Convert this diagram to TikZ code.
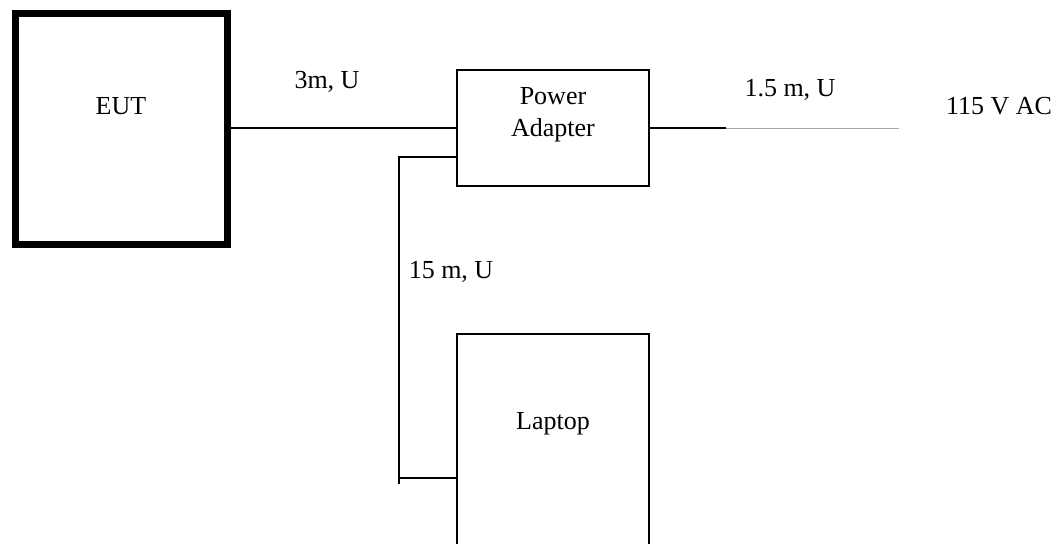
\documentclass[tikz,border=0pt]{standalone}
\usepackage{fontspec}
\setmainfont{Liberation Serif}
\begin{document}
\begin{tikzpicture}[x=0.75pt,y=-0.75pt,
  every node/.style={font=\fontsize{19.5}{23.5}\selectfont},
  box/.style={draw, line width=1.1pt, inner sep=0pt, minimum width=144pt},
  thickbox/.style={draw, line width=5.2pt, inner sep=0pt},
  wire/.style={line width=1.1pt},
  thinwire/.style={line width=0.7pt, gray!70},
  lbl/.style={inner sep=0pt, anchor=center}]
\useasboundingbox (0,0) rectangle (1063,543);
\clip (0,0) rectangle (1063,543);
% boxes
\node[thickbox, minimum width=159pt, minimum height=173.25pt] (eut) at (121.5,129) {};
\node[box, minimum height=87pt] (adapter) at (553,128) {};
\node[box, minimum height=199.5pt] (laptop) at (553,467) {};
% texts
\node[lbl] (eutt) at (121,106) {EUT};
\node[lbl, align=center] (adt) at (553,115) {Power\\[0.6pt]Adapter};
\node[lbl] (lapt) at (553,424) {Laptop};
\node[lbl] (l1) at (327,82) {3m, U};
\node[lbl] (l2) at (790,90) {1.5 m, U};
\node[lbl] (l3) at (999,106) {115 V AC};
\node[lbl] (l4) at (451,272) {15 m, U};
% connectors
\coordinate (c1) at (726,128);
\coordinate (c2) at (899,128);
\coordinate (k1) at (399,157);
\coordinate (k2) at (399,478);
\coordinate (k3) at (399,484);
\draw[wire] (adapter.west -| eut.east) -- (adapter.west);
\draw[wire] (adapter.east) -- (c1);
\draw[thinwire] (c1) -- (c2);
\draw[wire] (k1 -| adapter.west) -- (k1) -- (k3);
\draw[wire] (k2) -- (k2 -| laptop.west);
\end{tikzpicture}
\end{document}
